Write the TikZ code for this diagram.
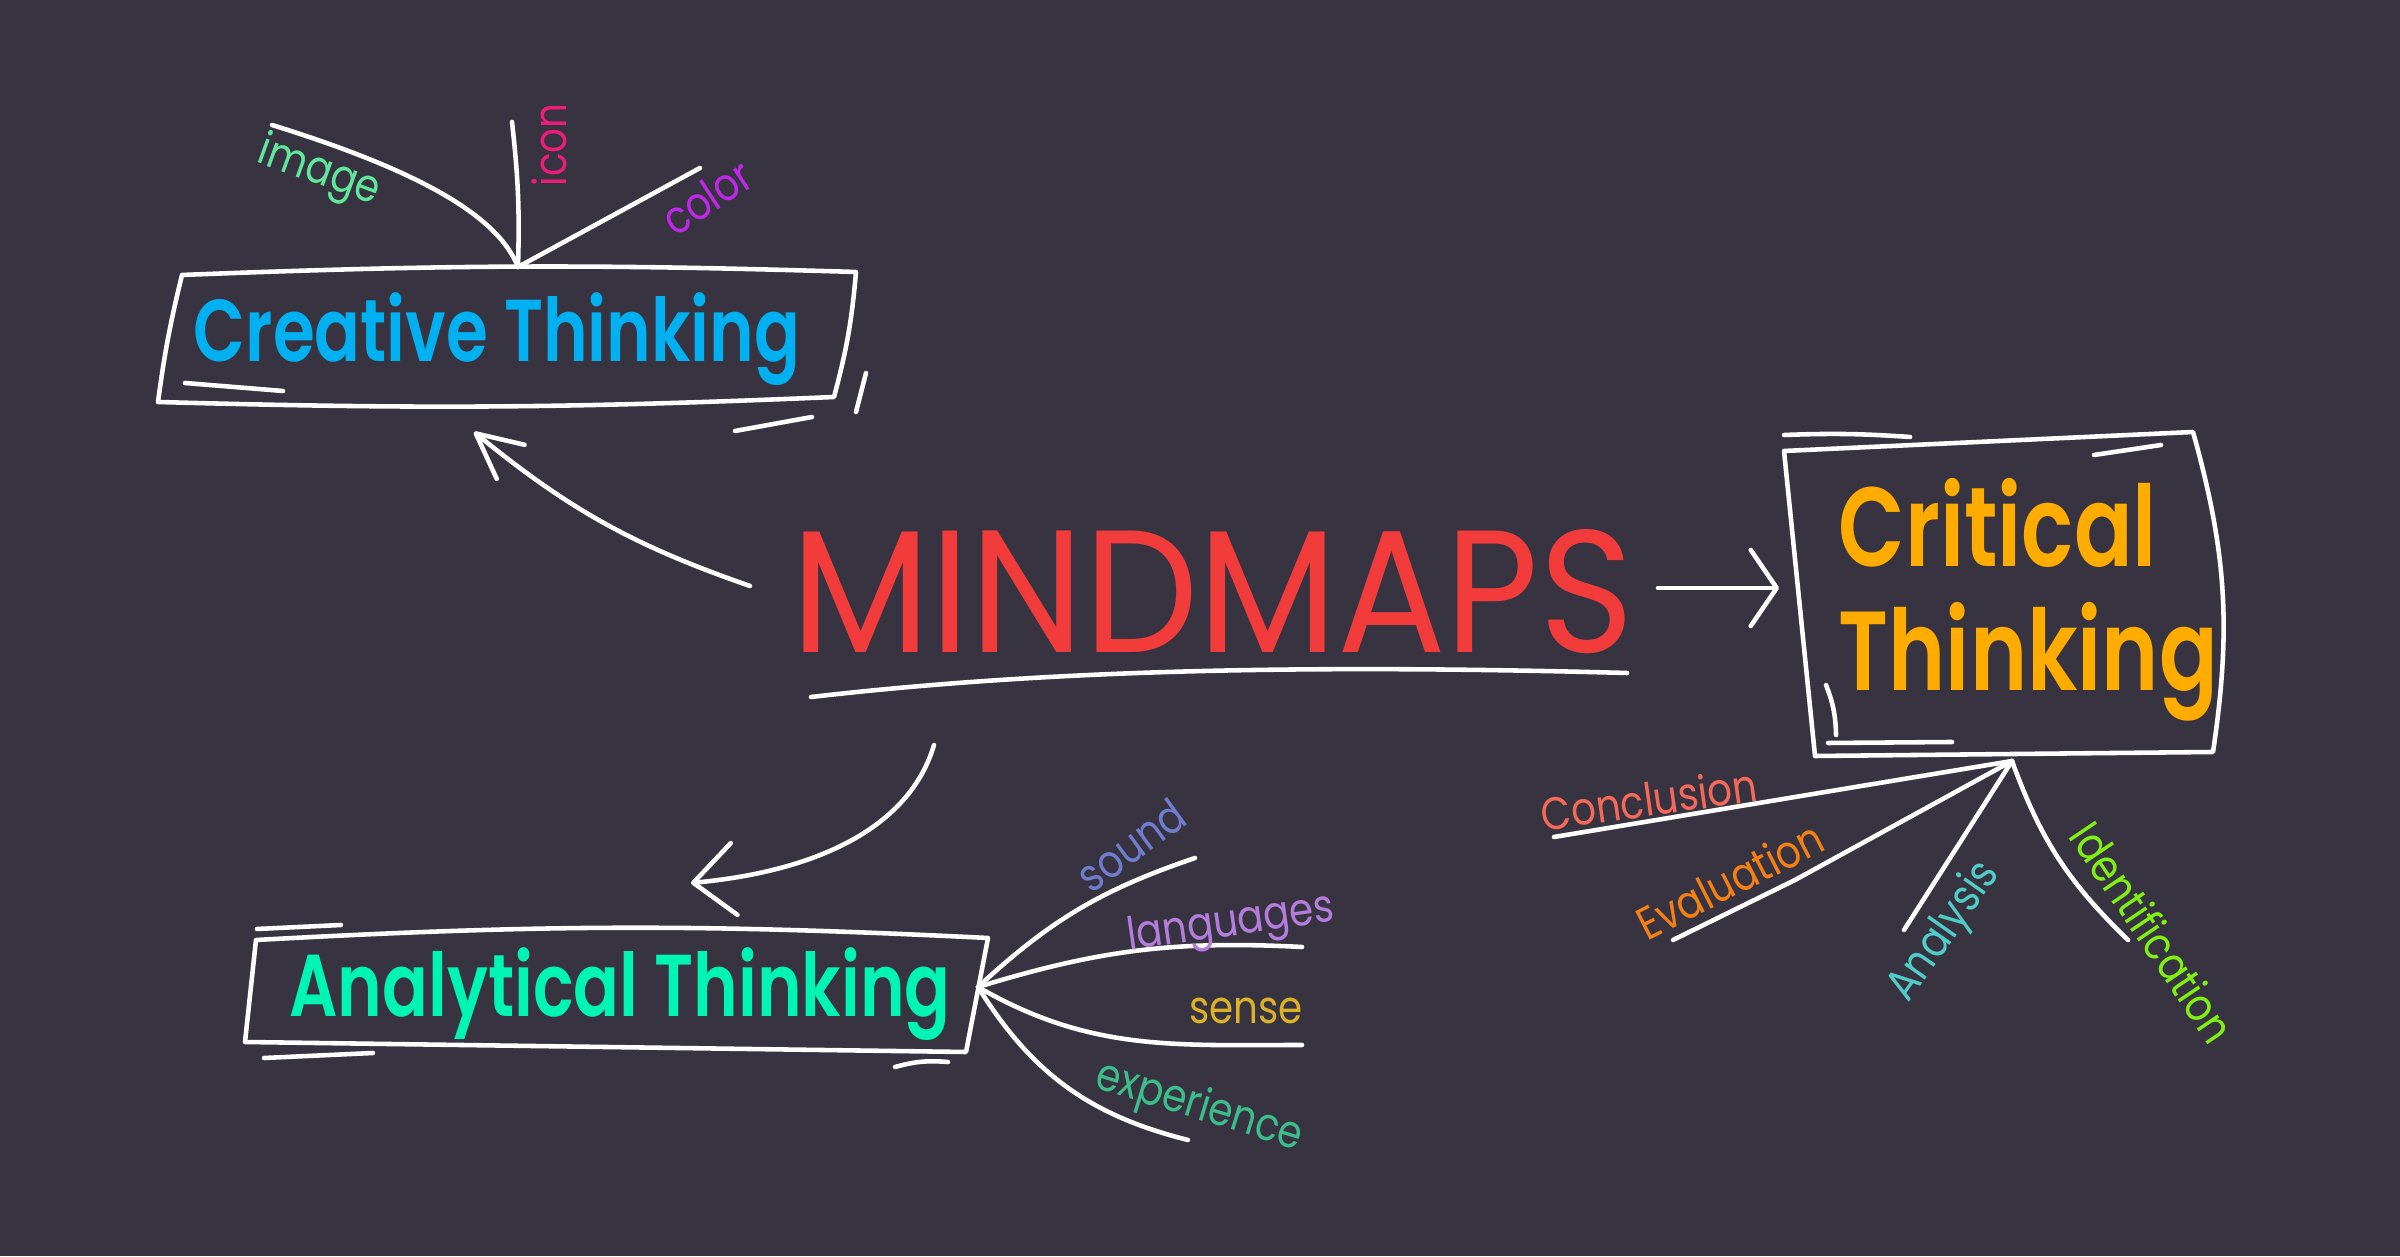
\documentclass[tikz,border=0pt]{standalone}
\usepackage{fontspec}
\setmainfont{Poppins}
\IfFontExistsTF{Poppins SemiBold}
	{\newfontfamily\headfont{Poppins SemiBold}[FakeStretch=0.77]}
	{\newfontfamily\headfont{Poppins}[FakeStretch=0.74, UprightFont=*, BoldFont=*, AutoFakeBold=1.6]}
\newfontfamily\leaffont{Poppins}[FakeStretch=0.85]
\usetikzlibrary{arrows.meta}

\definecolor{board}{RGB}{55,51,64}
\definecolor{mindred}{RGB}{242,60,60}
\definecolor{creablue}{RGB}{0,176,240}
\definecolor{critorange}{RGB}{255,172,0}
\definecolor{anagreen}{RGB}{0,245,180}
\definecolor{imggreen}{RGB}{95,232,155}
\definecolor{iconpink}{RGB}{236,30,122}
\definecolor{colpurple}{RGB}{192,40,232}
\definecolor{sndblue}{RGB}{112,124,205}
\definecolor{langlilac}{RGB}{180,125,220}
\definecolor{sensegold}{RGB}{218,178,40}
\definecolor{expgreen}{RGB}{60,190,140}
\definecolor{concoral}{RGB}{245,105,88}
\definecolor{evorange}{RGB}{245,128,20}
\definecolor{anateal}{RGB}{80,205,200}
\definecolor{idlime}{RGB}{128,240,20}

\begin{document}
\begin{tikzpicture}[
		sketch/.style={draw=white, line width=1.3pt, line cap=round, line join=round},
		arr/.style 2 args={sketch, -{Straight Barb[length=#1, width=#2, round]}},
		head/.style={font=\headfont\fontsize{25}{28}\selectfont, inner sep=0pt},
		leaf/.style={font=\leaffont\fontsize{13}{15}\selectfont, inner sep=0pt}
	]
		\fill[board] (0,0) rectangle (24,12.56);

		\node[inner sep=0pt, text=mindred] (mind) at (12.13,6.645) {\resizebox{8.42cm}{1.23cm}{MINDMAPS}};
		\draw[sketch] (8.11,5.59) .. controls (10.2,5.83) and (12.6,5.93) .. (16.27,5.83);

		% creative thinking
		\node[head, text=creablue, anchor=base] (creative) at (4.97,8.94) {Creative Thinking};
		\coordinate (cr-tl) at (1.82,9.81);
		\coordinate (cr-hub) at (5.18,9.89);
		\coordinate (cr-tr) at (8.56,9.84);
		\coordinate (cr-br) at (8.34,8.59);
		\coordinate (cr-bl) at (1.58,8.54);
		\draw[sketch] (cr-tl) to[bend left=2] (cr-tr) to[bend left=5] (cr-br) to[bend left=2] (cr-bl) to[bend left=3] (cr-tl);
		\draw[sketch] (1.85,8.73) -- (2.83,8.65);
		\draw[sketch] (8.66,8.83) -- (8.56,8.44);
		\draw[sketch] (7.35,8.25) -- (8.12,8.39);

		\coordinate (img-end) at (2.72,11.31);
		\coordinate (icon-end) at (5.12,11.34);
		\coordinate (col-end) at (7.00,10.88);
		\draw[sketch] (cr-hub) .. controls (4.98,10.4) and (4.2,10.85) .. (img-end);
		\draw[sketch] (cr-hub) to[bend right=4] (icon-end);
		\draw[sketch] (cr-hub) -- (col-end);
		\node[leaf, text=imggreen, rotate=-20] (image) at (3.19,10.83) {image};
		\node[leaf, text=iconpink, rotate=90] (icon) at (5.49,11.11) {icon};
		\node[leaf, text=colpurple, rotate=33] (color) at (7.07,10.59) {color};

		% analytical thinking
		\node[head, text=anagreen, anchor=base] (analytical) at (6.20,2.39) {Analytical Thinking};
		\coordinate (an-tl) at (2.56,3.16);
		\coordinate (an-tr) at (9.88,3.18);
		\coordinate (an-hub) at (9.78,2.69);
		\coordinate (an-br) at (9.66,2.04);
		\coordinate (an-bl) at (2.45,2.14);
		\draw[sketch] (an-tl) to[bend left=3] (an-tr) -- (an-br) -- (an-bl) -- (an-tl);
		\draw[sketch] (2.57,3.27) -- (3.41,3.31);
		\draw[sketch] (2.64,1.98) -- (3.73,2.03);
		\draw[sketch] (8.95,1.89) to[bend left=10] (9.48,1.94);

		\coordinate (snd-end) at (11.95,3.98);
		\coordinate (lang-end) at (13.02,3.09);
		\coordinate (sns-end) at (13.02,2.11);
		\coordinate (exp-end) at (11.88,1.16);
		\draw[sketch] (an-hub) to[bend left=12] (snd-end);
		\draw[sketch] (an-hub) to[bend left=10] (lang-end);
		\draw[sketch] (an-hub) to[out=-30, in=180] (sns-end);
		\draw[sketch] (an-hub) to[bend right=22] (exp-end);
		\node[leaf, text=sndblue, rotate=36] (sound) at (11.31,4.11) {sound};
		\node[leaf, text=langlilac, rotate=8] (languages) at (12.31,3.31) {languages};
		\node[leaf, text=sensegold] (sense) at (12.46,2.45) {sense};
		\node[leaf, text=expgreen, rotate=-17] (experience) at (11.99,1.48) {experience};

		% critical thinking
		\node[head, text=critorange, font=\headfont\fontsize{32}{35.3}\selectfont, align=left, anchor=base west] (critical) at (18.38,5.65) {Critical\\Thinking};
		\coordinate (ci-tl) at (17.84,8.05);
		\coordinate (ci-tr) at (21.93,8.24);
		\coordinate (ci-br) at (22.13,5.04);
		\coordinate (ci-bl) at (18.15,5.00);
		\coordinate (ci-hub) at (20.12,4.95);
		\draw[sketch] (ci-tl) -- (ci-tr) to[bend left=12] (ci-br) -- (ci-bl) -- (ci-tl);
		\draw[sketch] (17.84,8.21) to[bend left=3] (19.10,8.19);
		\draw[sketch] (20.94,8.01) -- (21.61,8.11);
		\draw[sketch] (18.26,5.71) to[bend left=10] (18.36,5.21);
		\draw[sketch] (18.28,5.13) -- (19.52,5.14);

		\coordinate (con-end) at (15.54,4.19);
		\coordinate (ev-kink) at (17.95,3.76);
		\coordinate (ev-end) at (16.73,3.16);
		\coordinate (ana-end) at (19.04,3.26);
		\coordinate (id-end) at (21.28,3.16);
		\draw[sketch] (ci-hub) -- (con-end);
		\draw[sketch] (ci-hub) -- (ev-kink) -- (ev-end);
		\draw[sketch] (ci-hub) -- (ana-end);
		\draw[sketch] (ci-hub) to[bend right=13] (id-end);
		\node[leaf, text=concoral, rotate=8] (conclusion) at (16.49,4.57) {Conclusion};
		\node[leaf, text=evorange, rotate=27] (evaluation) at (17.30,3.76) {Evaluation};
		\node[leaf, text=anateal, rotate=55] (analysis) at (19.45,3.24) {Analysis};
		\node[leaf, text=idlime, rotate=-56] (identification) at (21.53,3.24) {Identification};

		% arrows out of the centre
		\coordinate (mind-cr) at (7.50,6.70);
		\coordinate (cr-in) at (4.74,8.24);
		\coordinate (mind-an) at (9.34,5.11);
		\coordinate (an-in) at (6.91,3.73);
		\coordinate (mind-ci) at (16.58,6.68);
		\coordinate (ci-in) at (17.79,6.68);
		\draw[arr={4.5mm}{4.4mm}] (mind-cr) to[bend left=10] (cr-in);
		\draw[arr={4.1mm}{7.2mm}] (mind-an) .. controls (9.1,4.3) and (8.2,3.85) .. (an-in);
		\draw[arr={2.6mm}{7.6mm}] (mind-ci) -- (ci-in);
	\end{tikzpicture}
\end{document}
